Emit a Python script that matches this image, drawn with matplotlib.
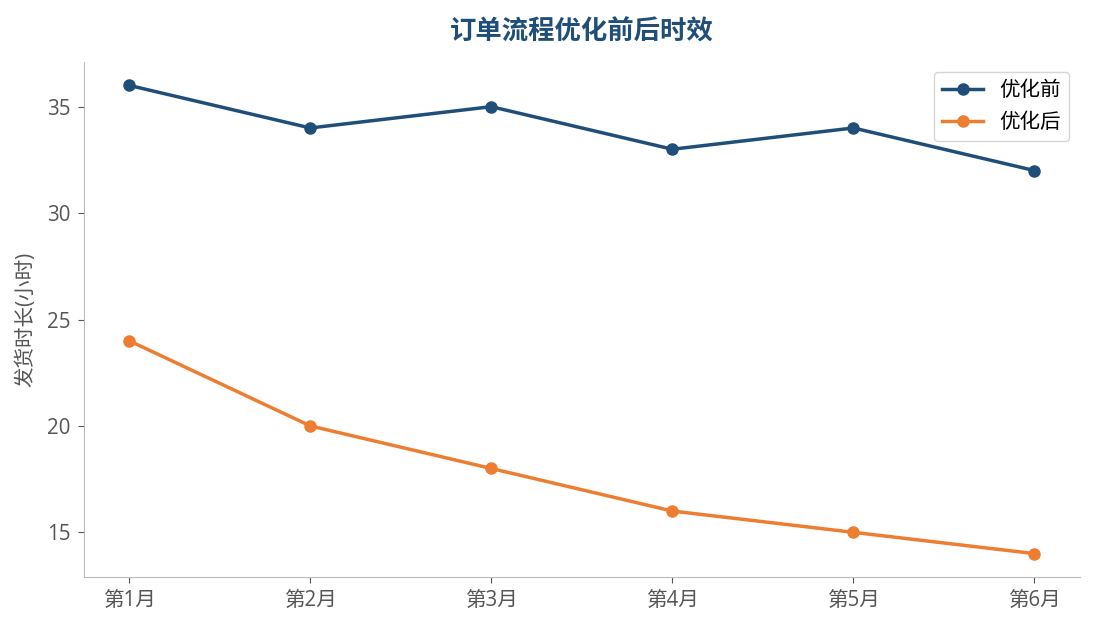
import matplotlib
matplotlib.use("Agg")
import matplotlib.pyplot as plt

plt.rcParams['font.family'] = ['Open Sans', 'Noto Sans CJK SC', 'DejaVu Sans']

months = ["第1月", "第2月", "第3月", "第4月", "第5月", "第6月"]
before = [36, 34, 35, 33, 34, 32]
after = [24, 20, 18, 16, 15, 14]

blue = "#1f4e79"
orange = "#ed7d31"

fig, ax = plt.subplots(figsize=(10.95, 6.3), dpi=100)
fig.subplots_adjust(left=0.0767, right=0.986, top=0.9016, bottom=0.0841)

ax.plot(months, before, color=blue, linewidth=2.5, marker="o", markersize=8, label="优化前")
ax.plot(months, after, color=orange, linewidth=2.5, marker="o", markersize=8, label="优化后")

ax.set_title("订单流程优化前后时效", fontsize=19, fontweight="bold", color=blue, pad=16)
ax.set_ylabel("发货时长(小时)", fontsize=14.8, color="#555555", labelpad=8)

for side in ["top", "right"]:
    ax.spines[side].set_visible(False)
for side in ["left", "bottom"]:
    ax.spines[side].set_color("#bbbbbb")
ax.tick_params(colors="#555555", labelsize=14.8, length=4.5, pad=5)

leg = ax.legend(loc="upper right", fontsize=14.8, frameon=True)
leg.get_frame().set_edgecolor("#cccccc")

fig.savefig("out.png", dpi=100)
